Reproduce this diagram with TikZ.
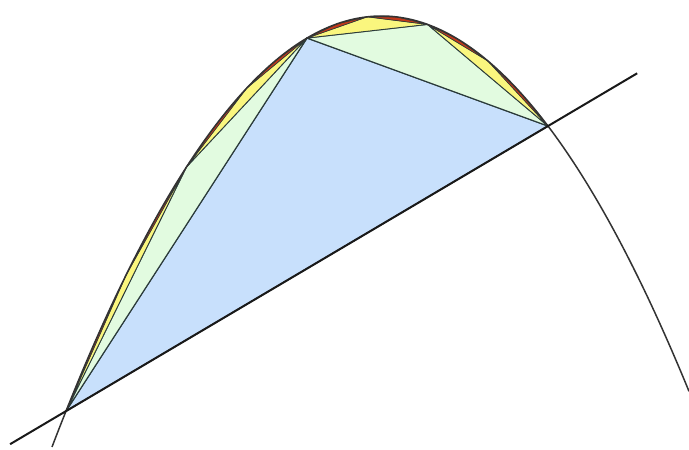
\documentclass[tikz,border=0pt]{standalone}
\usetikzlibrary{calc}
\definecolor{blueF}{HTML}{C8E0FC}
\definecolor{greenF}{HTML}{E2FBE0}
\definecolor{yellowF}{HTML}{FAF67E}
\definecolor{redF}{HTML}{C0381A}
\definecolor{edgeC}{HTML}{2A3A3A}
\begin{document}
\begin{tikzpicture}[x=1pt,y=-1pt,
  declare function={f(\x)=16+(0.063*(\x-381.5))^2;},
  tri/.style={draw=edgeC,line width=0.8pt,line join=round},
  curve/.style={draw=black!80,line width=1.5pt},
  chord/.style={draw=black!90,line width=2pt}]
\useasboundingbox (0,0) rectangle (689,450);
\coordinate (A) at (66,{f(66)});
\coordinate (B) at (548,{f(548)});
\foreach \k/\col/\lw in {1/blueF/1.3,2/greenF/1.1,3/yellowF/0.8,4/redF/0.5,5/redF/0.3}{
  \pgfmathsetmacro\s{482/2^\k}
  \pgfmathtruncatemacro\n{2^(\k-1)-1}
  \foreach \j in {0,...,\n}{
    \pgfmathsetmacro\xa{66+2*\j*\s}
    \pgfmathsetmacro\xb{66+(2*\j+1)*\s}
    \pgfmathsetmacro\xc{66+(2*\j+2)*\s}
    \path[tri,fill=\col,line width=\lw pt] (\xa,{f(\xa)}) -- (\xb,{f(\xb)}) -- (\xc,{f(\xc)}) -- cycle;
  }
}
\draw[curve] plot[domain=52:689,samples=200,smooth] (\x,{f(\x)});
\draw[chord] ($(A)!-0.116!(B)$) -- ($(A)!1.185!(B)$);
\end{tikzpicture}
\end{document}
